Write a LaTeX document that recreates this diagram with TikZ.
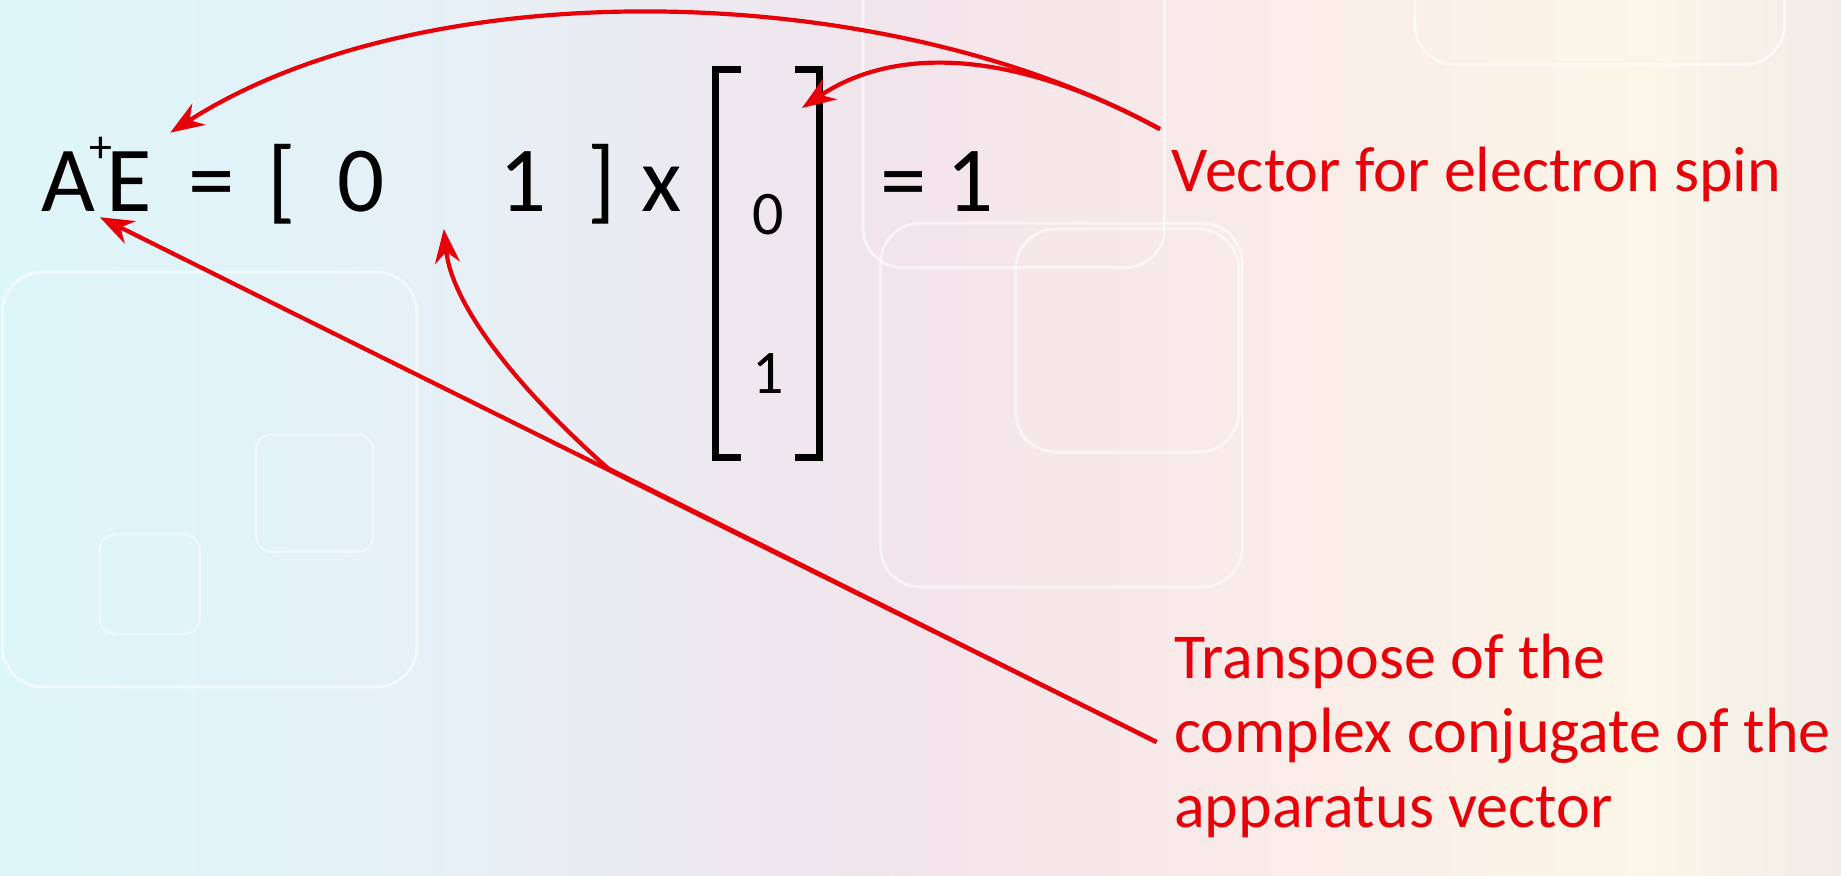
\documentclass[tikz,border=0pt]{standalone}
\usepackage{fontspec}
\setmainfont{Carlito}
\usetikzlibrary{arrows.meta}
\definecolor{arrred}{RGB}{232,0,8}
\definecolor{bgA}{RGB}{221,246,249}
\definecolor{bgB}{RGB}{230,240,246}
\definecolor{bgC}{RGB}{242,228,235}
\definecolor{bgD}{RGB}{250,236,232}
\definecolor{bgE}{RGB}{251,246,232}
\definecolor{bgF}{RGB}{240,237,232}
\tikzset{
  eqtext/.style={font=\fontsize{93}{110}\selectfont, inner sep=0pt, anchor=base west, text=black},
  vectext/.style={font=\fontsize{62}{70}\selectfont, inner sep=0pt, anchor=base west, text=black},
  lbltext/.style={font=\fontsize{64}{75}\selectfont, inner sep=0pt, anchor=base west, text=arrred},
  brk/.style={line width=7pt, draw=black, line join=miter, line cap=rect},
  arr/.style={draw=arrred, line width=4.2pt, -{Stealth[length=34pt,width=25pt,inset=11pt]}},
  deco/.style={draw=white, draw opacity=0.55, line width=3pt, rounded corners=40pt},
  decos/.style={draw=white, draw opacity=0.45, line width=2.5pt, rounded corners=16pt}
}
\begin{document}
\begin{tikzpicture}[x=1.1741pt,y=-1.1741pt]
\useasboundingbox (0,0) rectangle (1568,745.3);
% background
\shade[left color=bgA, right color=bgB] (0,0) rectangle (400,745.3);
\shade[left color=bgB, right color=bgC] (400,0) rectangle (760,745.3);
\shade[left color=bgC, right color=bgD] (760,0) rectangle (1100,745.3);
\shade[left color=bgD, right color=bgE] (1100,0) rectangle (1400,745.3);
\shade[left color=bgE, right color=bgF] (1400,0) rectangle (1568,745.3);
% decorative rounded squares
\draw[deco] (2,232) rectangle (355,585);
\draw[decos] (218,370) rectangle (318,470);
\draw[decos] (85,455) rectangle (170,540);
\draw[deco] (735,-60) rectangle (992,228);
\draw[deco] (750,190) rectangle (1058,500);
\draw[deco] (865,195) rectangle (1055,385);
\draw[deco] (1205,-60) rectangle (1520,55);
% equation
\node[eqtext] (AE) at (35,180) {A\kern-6pt\raisebox{0.53em}{\fontsize{46}{52}\selectfont +}\kern-6pt E};
\node[eqtext] (eqa) at (160,180) {=};
\node[eqtext] (lb) at (228,180) {[};
\node[eqtext] (z) at (287,180) {0};
\node[eqtext] (o) at (425,180) {1};
\node[eqtext] (rb) at (500,180) {]};
\node[eqtext] (times) at (546,180) {x};
\node[vectext] (vz) at (641,200) {0};
\node[vectext] (vo) at (641,335) {1};
\node[eqtext] (eqb) at (750,180) {=};
\node[eqtext] (one) at (806,180) {1};
% column brackets
\draw[brk] (628,59) -- (609,59) -- (609,390) -- (628,390);
\draw[brk] (680,59) -- (698,59) -- (698,390) -- (680,390);
% labels
\node[lbltext] (vl) at (998,163) {Vector for electron spin};
\node[lbltext] (t1) at (1000,578) {Transpose of the};
\node[lbltext] (t2) at (1000,641) {complex conjugate of the};
\node[lbltext] (t3) at (1000,705) {apparatus vector};
% connector end points
\coordinate (vs) at (988,110);
\coordinate (ts) at (985,632);
\coordinate (aE) at (145,113);
\coordinate (aB) at (683,92);
\coordinate (aA) at (85,185);
\coordinate (aR) at (378,195);
\coordinate (j) at (518,399);
% arrows
\draw[arr] (vs) .. controls (750,-20) and (360,-25) .. (aE);
\draw[arr] (vs) .. controls (860,40) and (760,40) .. (aB);
\draw[arr] (ts) -- (aA);
\draw[arr] (ts) -- (j) .. controls (440,330) and (385,260) .. (aR);
\end{tikzpicture}
\end{document}
